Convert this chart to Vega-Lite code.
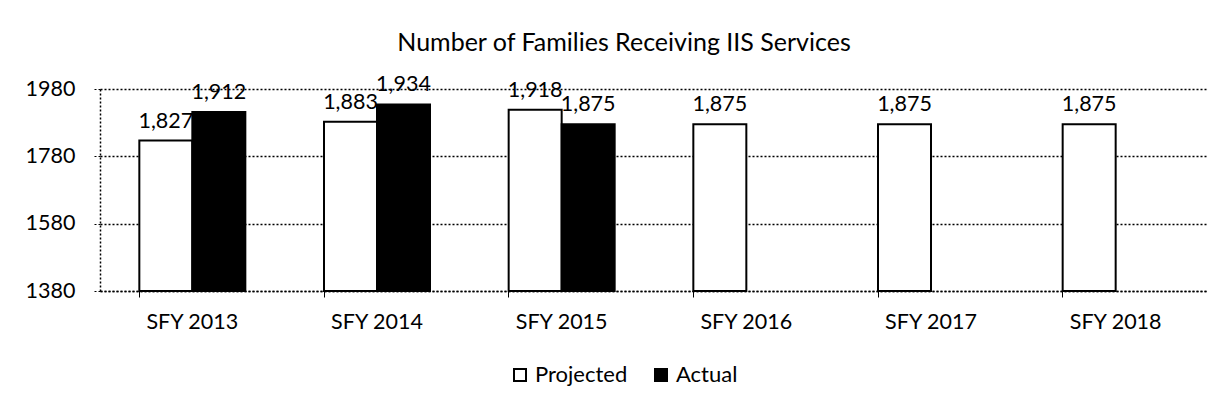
{
  "$schema": "https://vega.github.io/schema/vega-lite/v6.json",
  "autosize": "none",
  "width": 1108,
  "height": 202,
  "padding": {"left": 100, "top": 89, "right": 14, "bottom": 124},
  "background": "white",
  "title": {
    "text": "Number of Families Receiving IIS Services",
    "fontSize": 25,
    "font": "Lato",
    "fontWeight": "normal",
    "color": "black",
    "anchor": "middle",
    "offset": 18,
    "dx": -30
  },
  "data": {
    "values": [
      {"year": "SFY 2013", "series": "Projected", "value": 1827},
      {"year": "SFY 2013", "series": "Actual", "value": 1912},
      {"year": "SFY 2014", "series": "Projected", "value": 1883},
      {"year": "SFY 2014", "series": "Actual", "value": 1934},
      {"year": "SFY 2015", "series": "Projected", "value": 1918},
      {"year": "SFY 2015", "series": "Actual", "value": 1875},
      {"year": "SFY 2016", "series": "Projected", "value": 1875},
      {"year": "SFY 2017", "series": "Projected", "value": 1875},
      {"year": "SFY 2018", "series": "Projected", "value": 1875}
    ]
  },
  "encoding": {
    "x": {
      "field": "year",
      "type": "nominal",
      "sort": null,
      "scale": {"paddingInner": 0.426, "paddingOuter": 0.213},
      "axis": {
        "title": null,
        "labelAngle": 0,
        "labelFont": "Lato",
        "labelFontSize": 21.5,
        "labelColor": "black",
        "labelPadding": 14,
        "tickColor": "black",
        "tickSize": 6,
        "bandPosition": 0,
        "domainColor": "black",
        "domainDash": [2, 2],
        "domainWidth": 1.5
      }
    },
    "xOffset": {
      "field": "series",
      "type": "nominal",
      "sort": ["Projected", "Actual"],
      "scale": {"domain": ["Projected", "Actual"], "paddingInner": 0, "paddingOuter": 0}
    },
    "y": {
      "field": "value",
      "type": "quantitative",
      "scale": {"domain": [1380, 1980], "zero": false, "nice": false},
      "axis": {
        "title": null,
        "values": [1380, 1580, 1780, 1980],
        "format": "d",
        "labelFont": "Lato",
        "labelFontSize": 21.5,
        "labelColor": "black",
        "labelPadding": 17,
        "tickColor": "black",
        "tickSize": 8,
        "tickDash": [2, 2],
        "grid": true,
        "gridColor": "black",
        "gridDash": [2, 2],
        "gridWidth": 1.5,
        "domainColor": "black",
        "domainDash": [2, 2],
        "domainWidth": 1.5
      }
    }
  },
  "layer": [
    {
      "mark": {"type": "bar", "stroke": "black", "strokeWidth": 2},
      "encoding": {
        "y2": {"datum": 1380},
        "color": {
          "field": "series",
          "type": "nominal",
          "sort": ["Projected", "Actual"],
          "scale": {"domain": ["Projected", "Actual"], "range": ["white", "black"]},
          "legend": {
            "title": null,
            "orient": "none",
            "legendX": 409,
            "legendY": 275,
            "direction": "horizontal",
            "symbolType": "square",
            "symbolSize": 144,
            "symbolStrokeColor": "black",
            "symbolStrokeWidth": 2,
            "labelFont": "Lato",
            "labelFontSize": 22,
            "labelColor": "black",
            "labelOffset": 4,
            "columnPadding": 22
          }
        }
      }
    },
    {
      "mark": {"type": "text", "baseline": "alphabetic", "dy": -13, "font": "Lato", "fontSize": 21.5, "color": "black"},
      "encoding": {
        "text": {"field": "value", "type": "quantitative", "format": ","}
      }
    }
  ],
  "config": {
    "view": {"stroke": null}
  }
}
